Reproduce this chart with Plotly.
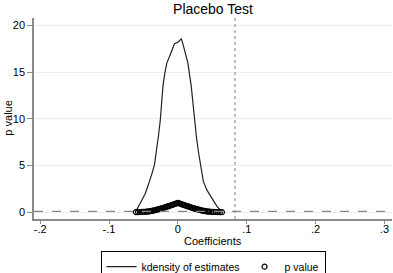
import plotly.graph_objects as go

# kdensity of placebo estimates
kd_x = [-0.061, -0.058, -0.055, -0.050, -0.048, -0.044, -0.041, -0.037, -0.034, -0.031,
        -0.028, -0.0255, -0.024, -0.0217, -0.019, -0.016, -0.012, -0.008, -0.005, 0.000,
        0.005, 0.007, 0.011, 0.0145, 0.0194, 0.0217, 0.024, 0.027, 0.030, 0.033,
        0.037, 0.042, 0.046, 0.050, 0.053, 0.057, 0.061, 0.065]
kd_y = [0.1, 0.5, 1.0, 1.6, 1.9, 2.7, 3.3, 4.3, 5.1, 6.5,
        8.3, 9.9, 11.3, 13.5, 14.9, 16.0, 16.7, 17.4, 18.05, 18.2,
        18.56, 18.1, 17.1, 16.0, 13.5, 11.7, 9.9, 8.0, 6.4, 5.1,
        3.3, 2.4, 1.9, 1.4, 1.05, 0.6, 0.3, 0.12]

# placebo estimates and their p values
est = [-0.061, -0.058, -0.055, -0.052, -0.049,
       -0.046, -0.044, -0.042, -0.040, -0.038, -0.036, -0.034, -0.032, -0.030, -0.028,
       -0.026, -0.024, -0.022, -0.020, -0.018, -0.016, -0.014, -0.012, -0.010, -0.008,
       -0.006, -0.004, -0.002, 0.000, 0.002, 0.004, 0.006, 0.008, 0.010, 0.012,
       0.014, 0.016, 0.018, 0.020, 0.022, 0.024, 0.026, 0.028, 0.030, 0.032,
       0.034, 0.036, 0.038, 0.040, 0.042, 0.044, 0.046,
       0.049, 0.052, 0.055, 0.058, 0.061, 0.064]
pval = [0.01, 0.02, 0.03, 0.04, 0.05,
        0.07, 0.08, 0.10, 0.12, 0.15, 0.18, 0.21, 0.25, 0.29, 0.33,
        0.37, 0.41, 0.45, 0.50, 0.55, 0.60, 0.65, 0.70, 0.75, 0.80,
        0.85, 0.90, 0.95, 1.00, 0.95, 0.90, 0.85, 0.80, 0.75, 0.70,
        0.65, 0.60, 0.55, 0.50, 0.45, 0.41, 0.37, 0.33, 0.29, 0.25,
        0.21, 0.18, 0.15, 0.12, 0.10, 0.08, 0.07,
        0.05, 0.04, 0.03, 0.02, 0.015, 0.01]

true_coef = 0.083
p_ref = 0.1

x_tickvals = [-0.2, -0.1, 0, 0.1, 0.2, 0.3]
x_ticktext = ["-.2", "-.1", "0", ".1", ".2", ".3"]
y_tickvals = [0, 5, 10, 15, 20]

fig = go.Figure()
fig.add_trace(go.Scatter(x=kd_x, y=kd_y, mode="lines", name="kdensity of estimates",
                         line=dict(color="#222222", width=1.2)))
fig.add_trace(go.Scatter(x=est, y=pval, mode="markers", name="p value",
                         marker=dict(symbol="circle-open", size=5, color="black",
                                     line=dict(width=1.2, color="black"))))

fig.add_shape(type="line", xref="paper", yref="y", x0=0, x1=1, y0=p_ref, y1=p_ref,
              line=dict(color="#888888", width=1.2, dash="dash"))
fig.add_shape(type="line", xref="x", yref="paper", x0=true_coef, x1=true_coef, y0=0, y1=1,
              line=dict(color="#999999", width=1.2, dash="dot"))

# axis titles as annotations (keeps margins fixed)
fig.add_annotation(text="Coefficients", xref="paper", yref="paper", x=0.5, y=-0.11,
                   xanchor="center", yanchor="middle", showarrow=False,
                   font=dict(size=11))
fig.add_annotation(text="p value", xref="paper", yref="paper", x=-0.075, y=0.5,
                   xanchor="center", yanchor="middle", textangle=-90, showarrow=False,
                   font=dict(size=11))

fig.update_layout(
    width=393, height=273,
    margin=dict(l=34, r=1, t=18, b=53.5, autoexpand=False),
    paper_bgcolor="white", plot_bgcolor="white",
    font=dict(family="Liberation Sans, Arial, sans-serif", color="black", size=11),
    title=dict(text="Placebo Test", x=0.5, xref="paper", xanchor="center",
               y=0.965, yanchor="middle", font=dict(size=14)),
    showlegend=True,
    legend=dict(orientation="h", x=0.5, xanchor="center", y=-0.16, yanchor="top",
                bordercolor="black", borderwidth=1, font=dict(size=10.5),
                itemwidth=30, tracegroupgap=0),
    xaxis=dict(range=[-0.209, 0.311], tickvals=x_tickvals, ticktext=x_ticktext,
               showgrid=False, zeroline=False, showline=True, linecolor="#8a8a8a",
               linewidth=2, ticks="outside", ticklen=3, tickcolor="#8a8a8a",
               ticklabelstandoff=-4, automargin=False),
    yaxis=dict(range=[-0.72, 20.8], tickvals=y_tickvals,
               showgrid=True, gridcolor="#e6eef0", gridwidth=1, zeroline=False,
               showline=True, linecolor="#8a8a8a", linewidth=1.5,
               ticks="outside", ticklen=5, tickcolor="#8a8a8a",
               automargin=False),
)

fig.write_html("out.html", config={"displayModeBar": False},
               post_script="document.body.style.margin='0';document.body.style.padding='0';")
